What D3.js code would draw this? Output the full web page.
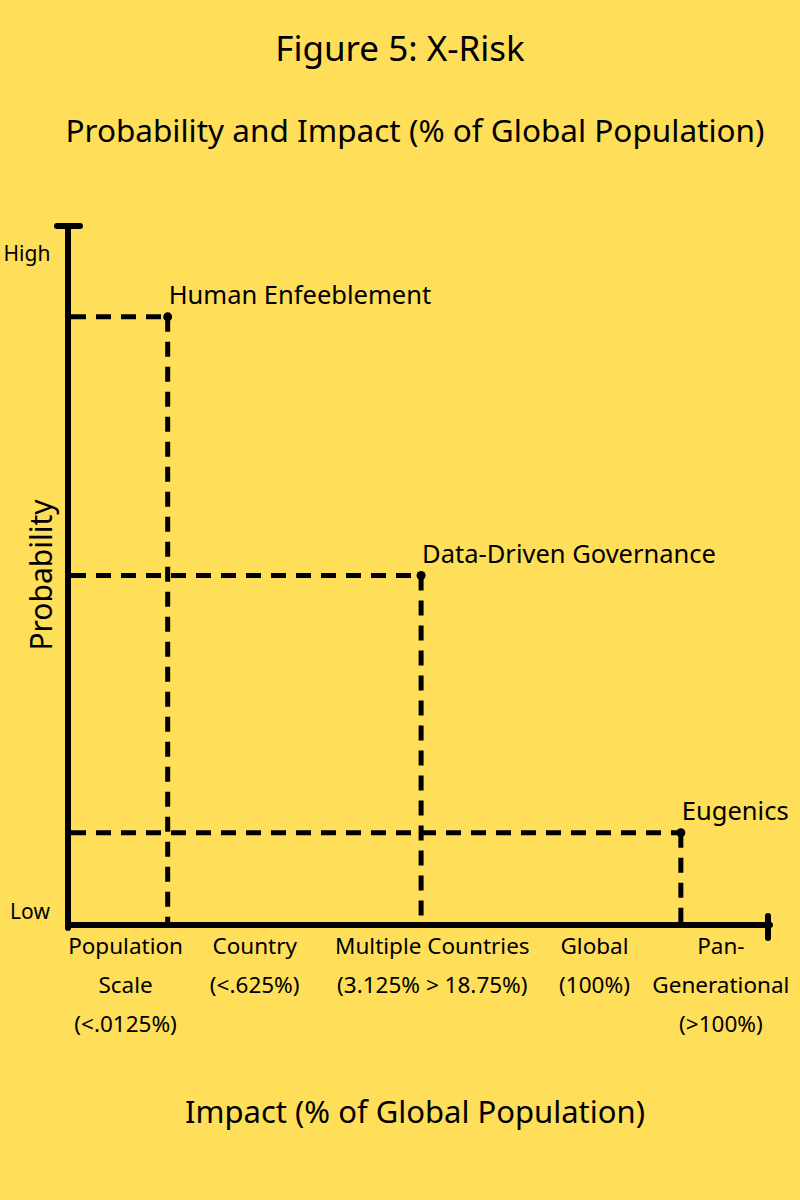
<!DOCTYPE html>
<html><head><meta charset="utf-8">
<script src="https://cdn.jsdelivr.net/npm/d3@7"></script>
<style>body{margin:0;background:#FFDE59}svg{display:block}</style>
</head><body><svg id="c" width="800" height="1200"></svg>
<script>
const risks = ["Human Enfeeblement", "Data-Driven Governance", "Eugenics"];
const impact = [14.2, 50.3, 87.3];      // position on impact axis (0-100)
const probability = [87, 50, 13.2];     // position on probability axis (0-100)
const impactTicks = [["Population","Scale","(<.0125%)"],["Country","(<.625%)"],["Multiple Countries","(3.125% > 18.75%)"],["Global","(100%)"],["Pan-","Generational","(>100%)"]];
const impactTickPos = [8.2, 26.6, 51.9, 75, 93];
const probTicks = ["Low","High"];

const svg = d3.select("#c");
const font = "Noto Sans, sans-serif";
svg.append("rect").attr("width",800).attr("height",1200).attr("fill","#FFDE59");
const x = d3.scaleLinear().domain([0,100]).range([68,770]);
const y = d3.scaleLinear().domain([0,100]).range([925,226]);

svg.append("text").attr("x",400).attr("y",61).attr("text-anchor","middle").attr("font-family",font).attr("font-size",35).text("Figure 5: X-Risk");
svg.append("text").attr("x",415).attr("y",142).attr("text-anchor","middle").attr("font-family",font).attr("font-size",31.5).text("Probability and Impact (% of Global Population)");

risks.forEach((r,i)=>{
  const g = svg.append("g").attr("stroke","#000").attr("stroke-width",5).attr("stroke-dasharray","15,10").attr("fill","none");
  g.append("line").attr("x1",x(0)+3).attr("x2",x(impact[i])).attr("y1",y(probability[i])).attr("y2",y(probability[i]));
  g.append("line").attr("x1",x(impact[i])).attr("x2",x(impact[i])).attr("y1",y(probability[i])).attr("y2",y(0));
  svg.append("circle").attr("cx",x(impact[i])).attr("cy",y(probability[i])).attr("r",4.5).attr("fill","#000");
  svg.append("text").attr("x",x(impact[i])+1).attr("y",y(probability[i])-13).attr("font-family",font).attr("font-size",25.5).text(r);
});

const ax = svg.append("g").attr("stroke","#000").attr("stroke-width",6).attr("stroke-linecap","round");
ax.append("line").attr("x1",x(0)).attr("x2",x(0)).attr("y1",y(100)).attr("y2",y(0)+3);
ax.append("line").attr("x1",x(0)).attr("x2",x(100)).attr("y1",y(0)).attr("y2",y(0));
ax.append("line").attr("x1",57).attr("x2",80).attr("y1",y(100)).attr("y2",y(100));
ax.append("line").attr("x1",x(100)-2).attr("x2",x(100)-2).attr("y1",y(0)-9).attr("y2",y(0)+13);

impactTicks.forEach((lines,i)=>{
  const t = svg.append("text").attr("text-anchor","middle").attr("font-family",font).attr("font-size",22.5).attr("y",954);
  lines.forEach((l,j)=>t.append("tspan").attr("x",x(impactTickPos[i])).attr("dy",j?39:0).text(l));
});
svg.append("text").attr("x",30).attr("y",919).attr("text-anchor","middle").attr("font-family",font).attr("font-size",21).text(probTicks[0]);
svg.append("text").attr("x",27).attr("y",261).attr("text-anchor","middle").attr("font-family",font).attr("font-size",21).text(probTicks[1]);
svg.append("text").attr("transform","translate(52,575) rotate(-90)").attr("text-anchor","middle").attr("font-family",font).attr("font-size",30).text("Probability");
svg.append("text").attr("x",415).attr("y",1123).attr("text-anchor","middle").attr("font-family",font).attr("font-size",31).text("Impact (% of Global Population)");
</script></body></html>
